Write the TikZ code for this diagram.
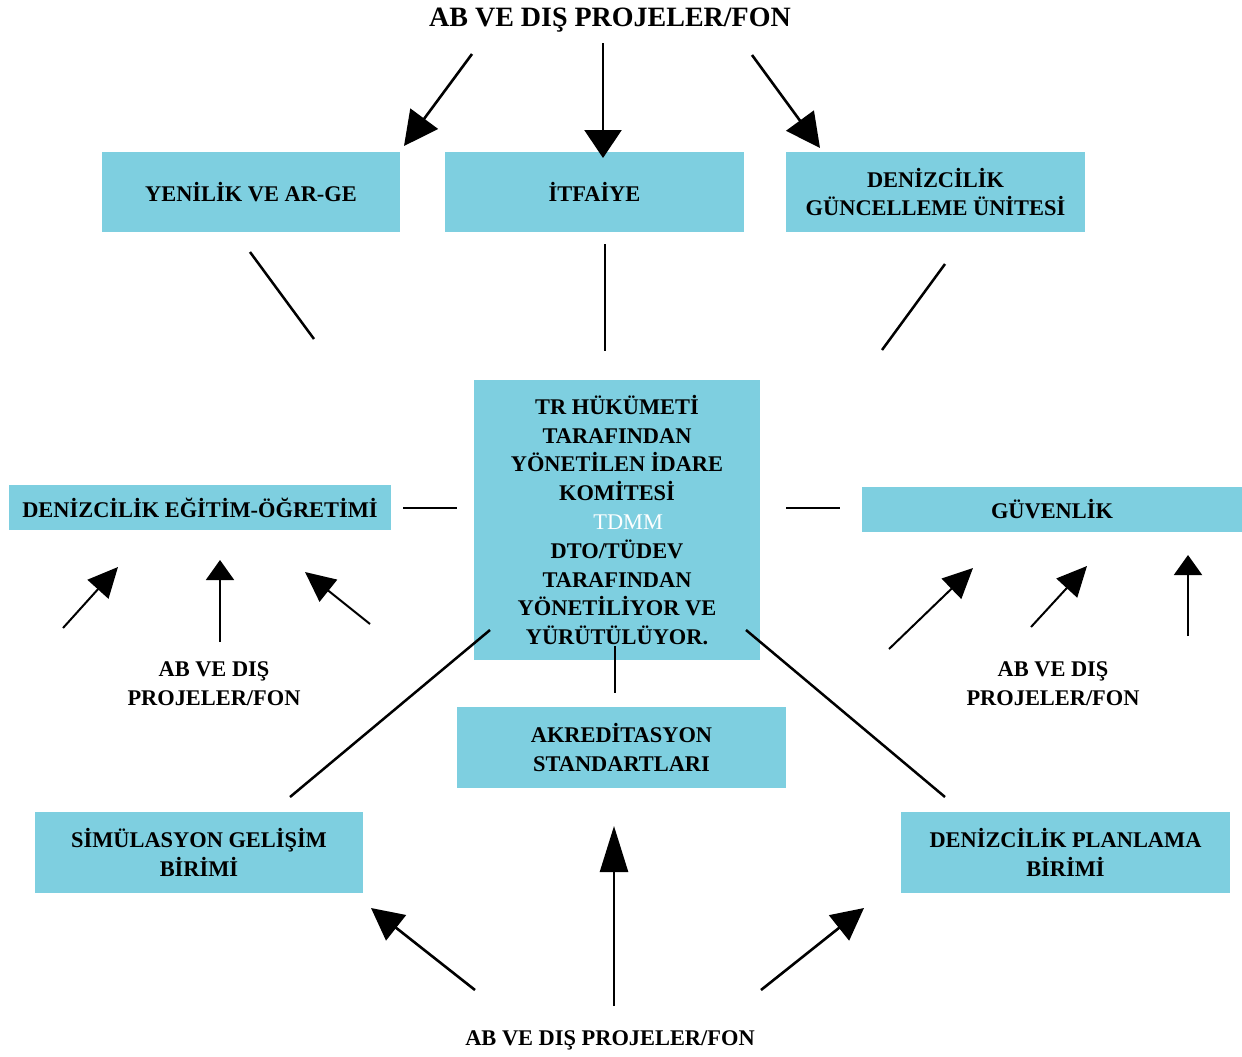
\documentclass[tikz,border=0pt]{standalone}
\usepackage{fontspec}
\setmainfont{Liberation Serif}
\usepackage{tikz}
\usetikzlibrary{arrows.meta}
\definecolor{boxblue}{HTML}{7ECFE0}
\tikzset{
  box/.style={fill=boxblue, align=center, inner sep=0pt, font=\bfseries\fontsize{11.2}{14.4}\selectfont},
  fon/.style={align=center, inner sep=0pt, font=\bfseries\fontsize{11.2}{14.4}\selectfont},
  link/.style={line width=1.25pt},
  bigarrow/.style={line width=1.3pt, -{Triangle[length=17pt,width=17pt]}},
  smallarrow/.style={line width=1pt, -{Triangle[length=13pt,width=14pt]}}
}
\begin{document}
\begin{tikzpicture}[x=0.5pt, y=-0.5pt]
\useasboundingbox (0,0) rectangle (1242,1056);
% boxes
\node[box, minimum width=149pt, minimum height=40pt] (yenilik) at (251,192) {YENİLİK VE AR-GE};
\node[box, minimum width=149.5pt, minimum height=40pt] (itfaiye) at (594.5,192) {İTFAİYE};
\node[box, minimum width=149.5pt, minimum height=40pt] (guncel) at (935.5,192) {DENİZCİLİK\\GÜNCELLEME ÜNİTESİ};
\node[box, minimum width=143pt, minimum height=140pt] (idare) at (617,520) {TR HÜKÜMETİ\\TARAFINDAN\\YÖNETİLEN İDARE\\KOMİTESİ\\\hspace*{1em}{\mdseries\color{white}TDMM}\\DTO/TÜDEV\\TARAFINDAN\\YÖNETİLİYOR VE\\YÜRÜTÜLÜYOR.};
\node[box, minimum width=191pt, minimum height=22.5pt] (egitim) at (200,507.5) {DENİZCİLİK EĞİTİM-ÖĞRETİMİ};
\node[box, minimum width=190pt, minimum height=22.5pt] (guvenlik) at (1052,509.5) {GÜVENLİK};
\node[box, minimum width=164.5pt, minimum height=40.5pt] (akredit) at (621.5,747.5) {AKREDİTASYON\\STANDARTLARI};
\node[box, minimum width=164pt, minimum height=40.5pt] (simul) at (199,852.5) {SİMÜLASYON GELİŞİM\\BİRİMİ};
\node[box, minimum width=164.5pt, minimum height=40.5pt] (planlama) at (1065.5,852.5) {DENİZCİLİK PLANLAMA\\BİRİMİ};
% fon labels
\node[fon, font=\bfseries\fontsize{14}{16}\selectfont] (fontop) at (610,20) {AB VE DIŞ PROJELER/FON};
\node[fon] (fonleft) at (214,684) {AB VE DIŞ\\PROJELER/FON};
\node[fon] (fonright) at (1053,684) {AB VE DIŞ\\PROJELER/FON};
\node[fon] (fonbottom) at (610,1040) {AB VE DIŞ PROJELER/FON};
% arrow ends
\coordinate (top-1) at (472,54);   \coordinate (top-1e) at (404,146);
\coordinate (top-2) at (603,43);   \coordinate (top-2e) at (603,158);
\coordinate (top-3) at (752,55);   \coordinate (top-3e) at (820,148);
\coordinate (left-1) at (63,628);  \coordinate (left-1e) at (118,567);
\coordinate (left-2) at (220,642); \coordinate (left-2e) at (220,560);
\coordinate (left-3) at (370,624); \coordinate (left-3e) at (305,572);
\coordinate (right-1) at (889,649);  \coordinate (right-1e) at (973,568);
\coordinate (right-2) at (1031,627); \coordinate (right-2e) at (1087,566);
\coordinate (right-3) at (1188,636); \coordinate (right-3e) at (1188,555);
\coordinate (bot-1) at (475,990);  \coordinate (bot-1e) at (371,908);
\coordinate (bot-2) at (614,1006); \coordinate (bot-2e) at (614,826);
\coordinate (bot-3) at (761,990);  \coordinate (bot-3e) at (864,908);
% link ends
\coordinate (yen-a) at (250,252);  \coordinate (yen-b) at (314,339);
\coordinate (itf-a) at (605,244);  \coordinate (itf-b) at (605,351);
\coordinate (gun-a) at (945,264);  \coordinate (gun-b) at (882,350);
\coordinate (egi-a) at (403,508);  \coordinate (egi-b) at (457,508);
\coordinate (guv-a) at (786,508);  \coordinate (guv-b) at (840,508);
\coordinate (sim-a) at (490,630);  \coordinate (sim-b) at (290,797);
\coordinate (akr-a) at (615,646);  \coordinate (akr-b) at (615,693);
\coordinate (pla-a) at (746,630);  \coordinate (pla-b) at (945,797);
\draw[bigarrow] (top-1) -- (top-1e);
\draw[bigarrow, -{Triangle[length=14pt,width=18.5pt]}] (top-2) -- (top-2e);
\draw[bigarrow] (top-3) -- (top-3e);
\draw[smallarrow, -{Triangle[length=15pt,width=14pt]}] (left-1) -- (left-1e);
\draw[smallarrow, -{Triangle[length=10pt,width=14pt]}] (left-2) -- (left-2e);
\draw[smallarrow, -{Triangle[length=15pt,width=14pt]}] (left-3) -- (left-3e);
\draw[smallarrow, -{Triangle[length=15pt,width=14pt]}] (right-1) -- (right-1e);
\draw[smallarrow, -{Triangle[length=15pt,width=14pt]}] (right-2) -- (right-2e);
\draw[smallarrow, -{Triangle[length=10pt,width=14pt]}] (right-3) -- (right-3e);
\draw[bigarrow, -{Triangle[length=16pt,width=16pt]}] (bot-1) -- (bot-1e);
\draw[bigarrow, -{Triangle[length=23pt,width=14pt]}] (bot-2) -- (bot-2e);
\draw[bigarrow, -{Triangle[length=16pt,width=16pt]}] (bot-3) -- (bot-3e);
\draw[link] (yen-a) -- (yen-b);
\draw[link] (itf-a) -- (itf-b);
\draw[link] (gun-a) -- (gun-b);
\draw[link] (egi-a) -- (egi-b);
\draw[link] (guv-a) -- (guv-b);
\draw[link] (sim-a) -- (sim-b);
\draw[link] (akr-a) -- (akr-b);
\draw[link] (pla-a) -- (pla-b);
\end{tikzpicture}
\end{document}
